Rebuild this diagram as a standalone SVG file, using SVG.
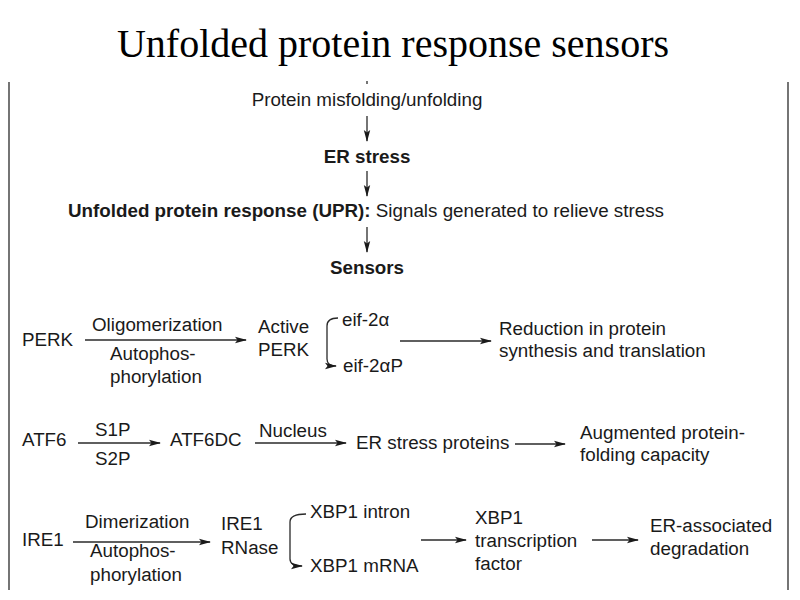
<svg xmlns="http://www.w3.org/2000/svg" width="800" height="600" viewBox="0 0 800 600">
<defs>
<marker id="ah" viewBox="0 0 12 8" refX="11" refY="4" markerWidth="12" markerHeight="8" markerUnits="userSpaceOnUse" orient="auto">
<path d="M0,0.8 L12,4 L0,7.2 L2.5,4 Z" fill="#1a1a1a"/>
</marker>
<style>
text{font-family:"Liberation Sans",Arial,sans-serif;font-size:18.8px;fill:#1a1a1a}
.b{font-weight:bold}
.t{font-family:"Liberation Serif","Times New Roman",serif;font-size:40px;fill:#000}
.ln{stroke:#2a2a2a;stroke-width:1.3;fill:none}
.ar{stroke:#2a2a2a;stroke-width:1.3;fill:none;marker-end:url(#ah)}
</style>
</defs>
<rect width="800" height="600" fill="#fff"/>
<text class="t" x="393" y="57" text-anchor="middle">Unfolded protein response sensors</text>
<g id="frame">
<line class="ln" x1="9" y1="82" x2="9" y2="590"/>
<line class="ln" x1="788" y1="82" x2="788" y2="590"/>
<line class="ln" x1="367" y1="81" x2="367" y2="84"/>
</g>
<g id="n-misfolding"><text x="367" y="106" text-anchor="middle">Protein misfolding/unfolding</text></g>
<g id="n-erstress"><text class="b" x="367" y="163" text-anchor="middle">ER stress</text></g>
<g id="n-upr"><text x="68" y="217"><tspan class="b">Unfolded protein response (UPR):</tspan> Signals generated to relieve stress</text></g>
<g id="n-sensors"><text class="b" x="367" y="274" text-anchor="middle">Sensors</text></g>
<g id="n-perk"><text x="22" y="346">PERK</text></g>
<g id="n-activeperk"><text x="258" y="333">Active</text><text x="258" y="356">PERK</text></g>
<g id="n-eif"><text x="342" y="326">eif-2α</text></g>
<g id="n-eifp"><text x="343" y="372">eif-2αP</text></g>
<g id="n-reduction"><text x="499" y="335">Reduction in protein</text><text x="499" y="357">synthesis and translation</text></g>
<g id="n-atf6"><text x="22" y="446">ATF6</text></g>
<g id="n-atf6dc"><text x="170" y="446">ATF6DC</text></g>
<g id="n-erproteins"><text x="356" y="449">ER stress proteins</text></g>
<g id="n-augmented"><text x="580" y="439">Augmented protein-</text><text x="580" y="461">folding capacity</text></g>
<g id="n-ire1"><text x="22" y="546">IRE1</text></g>
<g id="n-ire1rnase"><text x="221" y="530">IRE1</text><text x="221" y="554">RNase</text></g>
<g id="n-intron"><text x="310" y="518">XBP1 intron</text></g>
<g id="n-mrna"><text x="310" y="572">XBP1 mRNA</text></g>
<g id="n-xbp1tf"><text x="475" y="524">XBP1</text><text x="475" y="547">transcription</text><text x="475" y="570">factor</text></g>
<g id="n-erad"><text x="650" y="532">ER-associated</text><text x="650" y="555">degradation</text></g>
<g id="connectors">
<line class="ar" x1="367" y1="116" x2="367" y2="141"/>
<line class="ar" x1="367" y1="171" x2="367" y2="196"/>
<line class="ar" x1="367" y1="227" x2="367" y2="252"/>
<line class="ar" x1="85" y1="340" x2="246" y2="340"/>
<text x="92" y="331">Oligomerization</text>
<text x="110" y="360">Autophos-</text>
<text x="110" y="383">phorylation</text>
<path class="ar" d="M338,318 Q327,318 327,326 L327,359 Q327,366 336,366"/>
<line class="ar" x1="400" y1="341" x2="491" y2="341"/>
<line class="ar" x1="78" y1="443" x2="160" y2="443"/>
<text x="95" y="436">S1P</text>
<text x="95" y="465">S2P</text>
<line class="ar" x1="255" y1="443" x2="346" y2="443"/>
<text x="259" y="437">Nucleus</text>
<line class="ar" x1="515" y1="444" x2="565" y2="444"/>
<line class="ar" x1="73" y1="542" x2="210" y2="542"/>
<text x="85" y="528">Dimerization</text>
<text x="90" y="557">Autophos-</text>
<text x="90" y="581">phorylation</text>
<path class="ar" d="M306,514 Q290,514 290,522 L290,559 Q290,566 302,566"/>
<line class="ar" x1="421" y1="540" x2="466" y2="540"/>
<line class="ar" x1="592" y1="540" x2="638" y2="540"/>
</g>
</svg>
